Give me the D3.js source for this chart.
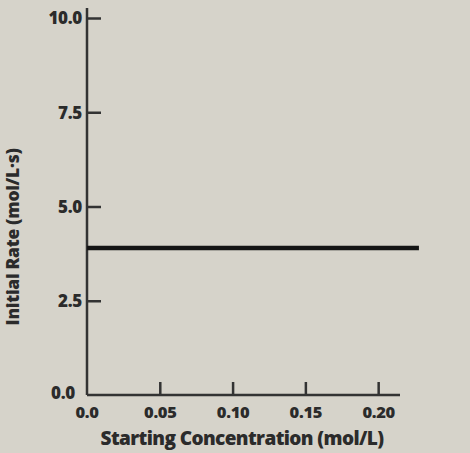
<!DOCTYPE html>
<html>
<head>
<meta charset="utf-8">
<script src="https://cdn.jsdelivr.net/npm/d3@7"></script>
<style>
  body { margin: 0; background: #d6d3ca; }
  svg text { font-family: "Open Sans", sans-serif; font-weight: 800; fill: #2b2b2b; }
</style>
</head>
<body>
<div id="chart"></div>
<script>
// data
var concX = [0.0, 0.228];
var rateY = [3.9, 3.9];
var xTicks = [0.05, 0.10, 0.15, 0.20];
var xTickLabels = ["0.05", "0.10", "0.15", "0.20"];
var yTicks = [2.5, 5.0, 7.5, 10.0];
var yTickLabels = ["2.5", "5.0", "7.5", "10.0"];

var W = 470, H = 453;
var ox = 87, oy = 395;

var svg = d3.select("#chart")
    .append("svg")
    .attr("width", W)
    .attr("height", H);

svg.append("rect")
    .attr("width", W)
    .attr("height", H)
    .attr("fill", "#d6d3ca");

// scales
var x = d3.scaleLinear()
    .domain([0, 0.215])
    .range([ox, 400]);
var y = d3.scaleLinear()
    .domain([0, 10])
    .range([oy, 18]);

// x axis, ticks point up into the plot
var xAxis = svg.append("g")
    .attr("transform", "translate(0," + oy + ")")
    .call(d3.axisTop(x).tickValues(xTicks).tickSize(13).tickFormat(""));
xAxis.select(".domain").attr("d", "M" + ox + ",0H400");

xAxis.selectAll(".tick")
    .append("text")
    .attr("y", 23)
    .attr("text-anchor", "middle")
    .attr("letter-spacing", "-0.3")
    .style("font-size", "16.5px")
    .text(function (d, i) { return xTickLabels[i]; });

// y axis, ticks point right
var yAxis = svg.append("g")
    .attr("transform", "translate(" + ox + ",0)")
    .call(d3.axisRight(y).tickValues(yTicks).tickSize(14).tickFormat(""));
yAxis.select(".domain").attr("d", "M0,8V" + oy);

yAxis.selectAll(".tick")
    .append("text")
    .attr("x", -5)
    .attr("dy", "0.35em")
    .attr("text-anchor", "end")
    .attr("letter-spacing", "-0.3")
    .style("font-size", "17px")
    .text(function (d, i) { return yTickLabels[i]; });

svg.selectAll(".domain, .tick line")
    .attr("stroke", "#333")
    .attr("stroke-width", 2.5);

// zero labels
svg.append("text")
    .attr("x", 75)
    .attr("y", oy + 4)
    .attr("text-anchor", "end")
    .attr("letter-spacing", "-0.3")
    .style("font-size", "17px")
    .text("0.0");
svg.append("text")
    .attr("x", x(0))
    .attr("y", oy + 23)
    .attr("text-anchor", "middle")
    .attr("letter-spacing", "-0.3")
    .style("font-size", "16.5px")
    .text("0.0");

// the rate line
var pts = concX.map(function (d, i) { return [d, rateY[i]]; });
svg.append("path")
    .datum(pts)
    .attr("fill", "none")
    .attr("stroke", "#141414")
    .attr("stroke-width", 4.5)
    .attr("d", d3.line()
        .x(function (d) { return x(d[0]); })
        .y(function (d) { return y(d[1]); }));

// axis titles
svg.append("text")
    .attr("x", 242)
    .attr("y", 445)
    .attr("text-anchor", "middle")
    .attr("letter-spacing", "-0.6")
    .style("font-size", "19px")
    .text("Starting Concentration (mol/L)");

svg.append("text")
    .attr("transform", "translate(19,237) rotate(-90)")
    .attr("text-anchor", "middle")
    .attr("letter-spacing", "-0.3")
    .style("font-size", "17.5px")
    .text("Initial Rate (mol/L·s)");
</script>
</body>
</html>
